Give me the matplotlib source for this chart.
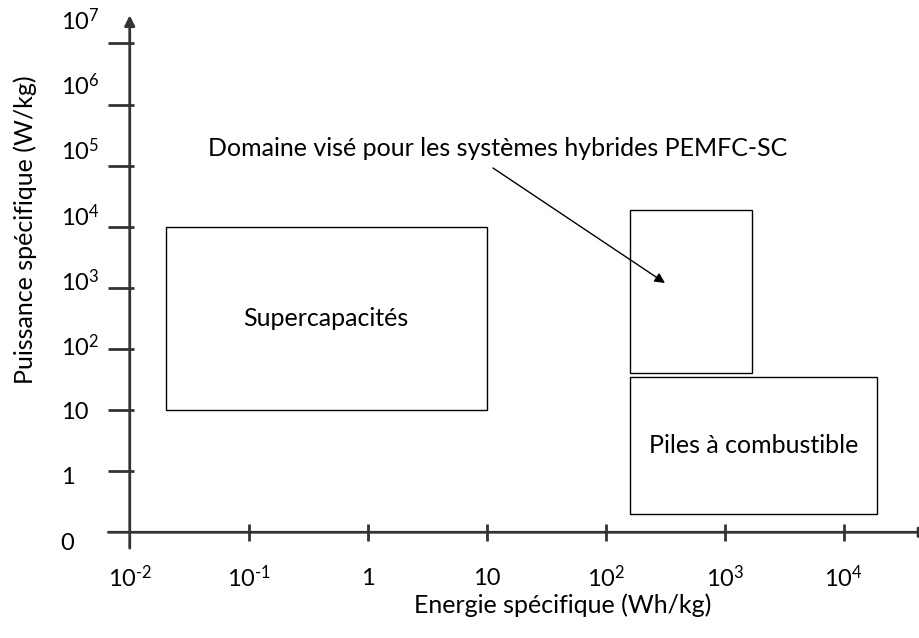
import numpy as np
import matplotlib
matplotlib.use('Agg')
import matplotlib.pyplot as plt
from matplotlib.patches import Rectangle

plt.rcParams['font.family'] = ['Lato', 'DejaVu Sans']
plt.rcParams['mathtext.fontset'] = 'custom'
plt.rcParams['mathtext.rm'] = 'Lato'
plt.rcParams['mathtext.it'] = 'Lato:italic'

# axes graduations (decades)
x_decades = [-2, -1, 0, 1, 2, 3, 4]
x_labels = [r'$10^{\text{-}2}$', r'$10^{\text{-}1}$', '1', '10', '$10^{2}$', '$10^{3}$', '$10^{4}$']
y_labels = ['0', '1', '10', '$10^{2}$', '$10^{3}$', '$10^{4}$', '$10^{5}$', '$10^{6}$', '$10^{7}$']

# domaines : energie (Wh/kg) min/max, puissance (W/kg) min/max
domaines = ['Supercapacités', 'PEMFC-SC', 'Piles à combustible']
e_min = [0.02, 160, 160]
e_max = [10, 1700, 19000]
p_min = [10, 40, 0.2]
p_max = [1e4, 1.9e4, 35]


def ypos(p):
    # 0 -> 0, 1 -> 1, 10 -> 2, ...
    return np.log10(p) + 1


fig = plt.figure(figsize=(9.2, 6.38), dpi=100)
ax = fig.add_axes([0, 0, 1, 1])
ax.set_xlim(-3.09, 4.64)
ax.set_ylim(-1.73, 8.71)
ax.axis('off')

axe = '#333333'
# axe des ordonnees avec fleche
ax.annotate('', xy=(-2, 8.46), xytext=(-2, -0.26),
            arrowprops=dict(arrowstyle='-|>', lw=2, color=axe, mutation_scale=15, shrinkA=0, shrinkB=0))
# axe des abscisses (fleche coupee au bord)
ax.annotate('', xy=(4.72, 0), xytext=(-2.18, 0), annotation_clip=False,
            arrowprops=dict(arrowstyle='-|>', lw=2, color=axe, mutation_scale=15, shrinkA=0, shrinkB=0))

y_ticks = np.arange(len(y_labels))
ax.hlines(y_ticks[1:], -2.18, -1.96, color=axe, lw=2)
ax.vlines(x_decades[1:], -0.14, 0.14, color=axe, lw=2)

for k, lab in enumerate(y_labels):
    ax.text(-2.58, -0.18 + 1.07 * k, lab, fontsize=17, ha='left', va='center')
for xd, lab in zip(x_decades, x_labels):
    ax.text(xd, -0.75, lab, fontsize=17, ha='center', va='center')

for i in range(len(domaines)):
    x0, x1 = np.log10(e_min[i]), np.log10(e_max[i])
    y0, y1 = ypos(p_min[i]), ypos(p_max[i])
    ax.add_patch(Rectangle((x0, y0), x1 - x0, y1 - y0, fill=False, ec='black', lw=1))

ax.text((np.log10(e_min[0]) + np.log10(e_max[0])) / 2, (ypos(p_min[0]) + ypos(p_max[0])) / 2,
        domaines[0], fontsize=18, ha='center', va='center')
ax.text((np.log10(e_min[2]) + np.log10(e_max[2])) / 2, (ypos(p_min[2]) + ypos(p_max[2])) / 2,
        domaines[2], fontsize=18, ha='center', va='center')

fig.text(208 / 920, 1 - 148 / 638, 'Domaine visé pour les systèmes hybrides PEMFC-SC',
         fontsize=18, ha='left', va='center')
ax.annotate('', xy=(665 / 920, 1 - 283 / 638), xytext=(493 / 920, 1 - 168 / 638),
            xycoords='figure fraction', textcoords='figure fraction',
            arrowprops=dict(arrowstyle='-|>', lw=1, color='black', mutation_scale=15, shrinkA=0, shrinkB=0))

fig.text(563 / 920, 1 - 605 / 638, 'Energie spécifique (Wh/kg)', fontsize=18, ha='center', va='center')
fig.text(25 / 920, 1 - 230 / 638, 'Puissance spécifique (W/kg)', fontsize=18, ha='center', va='center',
         rotation=90)

plt.savefig('out.png', dpi=100)
